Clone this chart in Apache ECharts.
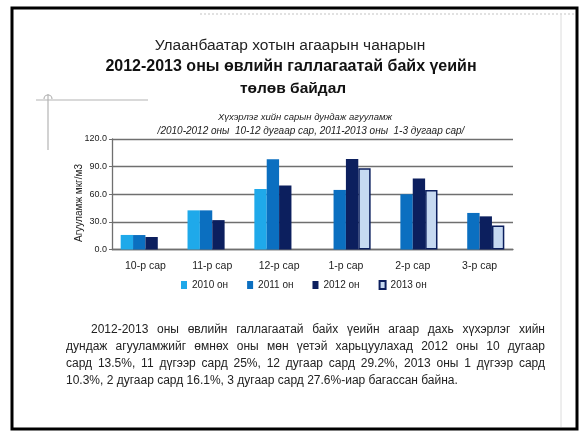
<!DOCTYPE html>
<html><head><meta charset="utf-8">
<script src="https://cdn.jsdelivr.net/npm/echarts@6/dist/echarts.min.js"></script>
<style>html,body{margin:0;padding:0;background:#fff}#c{width:581px;height:432px}</style>
</head><body><div id="c"></div>
<script>
// Monthly mean SO2 concentration, heating season comparison
const months = ['10-р сар', '11-р сар', '12-р сар', '1-р сар', '2-р сар', '3-р сар'];
const seriesNames = ['2010 он', '2011 он', '2012 он', '2013 он'];
const s2010 = [15.8, 42.5, 65.7, null, null, null];
const s2011 = [15.7, 42.5, 98.0, 64.7, 60.0, 39.7];
const s2012 = [13.6, 31.9, 69.4, 98.3, 77.0, 36.0];
const s2013 = [null, null, null, 88.2, 64.6, 26.1];

const titleLines = [
  'Улаанбаатар хотын агаарын чанарын',
  '2012-2013 оны өвлийн галлагаатай байх үеийн',
  'төлөв байдал'
];
const subtitleLines = [
  'Хүхэрлэг хийн сарын дундаж агууламж',
  '/2010-2012 оны  10-12 дугаар сар, 2011-2013 оны  1-3 дугаар сар/'
];
const yAxisTitle = 'Агууламж мкг/м3';
const paragraphLines = [
  '2012-2013 оны өвлийн галлагаатай байх үеийн агаар дахь хүхэрлэг хийн',
  'дундаж агууламжийг өмнөх оны мөн үетэй харьцуулахад 2012 оны 10 дугаар',
  'сард 13.5%, 11 дүгээр сард 25%, 12 дугаар сард 29.2%, 2013 оны 1 дүгээр сард',
  '10.3%, 2 дугаар сард 16.1%, 3 дугаар сард 27.6%-иар багассан байна.'
];

const colors = ['#1fa9ea', '#0b6fc0', '#0c1f5e', '#c6d9f1'];
const narrow = '"Liberation Sans Narrow", "Liberation Sans", Arial, sans-serif';
const sans = '"Liberation Sans", Arial, sans-serif';

// Justified paragraph: each word is placed as its own text element
const measureCtx = document.createElement('canvas').getContext('2d');
function paragraphGraphics() {
  const fontSize = 12;
  const font = fontSize + 'px ' + sans;
  measureCtx.font = font;
  const out = [];
  const lineYs = [330, 347, 364, 381];
  const right = 545;
  paragraphLines.forEach((line, i) => {
    const left = i === 0 ? 91 : 66;
    const words = line.split(' ');
    const widths = words.map(w => measureCtx.measureText(w).width);
    const total = widths.reduce((a, b) => a + b, 0);
    const last = i === paragraphLines.length - 1;
    const gap = last ? measureCtx.measureText(' ').width : (right - left - total) / (words.length - 1);
    let x = left;
    words.forEach((w, k) => {
      out.push({
        type: 'text', x: x, y: lineYs[i],
        style: { text: w, font: font, fill: '#222', textVerticalAlign: 'middle' }
      });
      x += widths[k] + gap;
    });
  });
  return out;
}

const chart = echarts.init(document.getElementById('c'), null, { renderer: 'canvas' });
const data = [s2010, s2011, s2012, s2013];

chart.setOption({
  animation: false,
  backgroundColor: '#fff',
  grid: { left: 112, right: 68, top: 139, bottom: 182.5 },
  legend: {
    data: seriesNames,
    left: 176, top: 275,
    icon: 'rect', itemWidth: 6, itemHeight: 8, itemGap: 19, itemTextGap: 2,
    textStyle: { fontFamily: narrow, fontSize: 10, color: '#222' }
  },
  xAxis: {
    type: 'category', data: months,
    axisLine: { lineStyle: { color: '#6f6f6f', width: 1.3 } },
    axisTick: { show: false },
    axisLabel: { margin: 11, fontFamily: narrow, fontSize: 10.5, color: '#222' }
  },
  yAxis: {
    type: 'value', min: 0, max: 120, interval: 30,
    axisLine: { show: true, lineStyle: { color: '#6f6f6f', width: 1.3 } },
    axisTick: { show: true, length: 3, lineStyle: { color: '#6f6f6f' } },
    axisLabel: { margin: 5, fontFamily: narrow, fontSize: 9, color: '#222',
      formatter: v => v.toFixed(1) },
    splitLine: { lineStyle: { color: '#6f6f6f', width: 1.3 } }
  },
  series: seriesNames.map((name, i) => ({
    name: name, type: 'bar', data: data[i],
    barGap: '0%', barCategoryGap: '26%',
    itemStyle: i === 3
      ? { color: colors[3], borderColor: colors[2], borderWidth: 1.5 }
      : { color: colors[i] }
  })),
  graphic: [
    // page frame
    { type: 'rect', shape: { x: 12, y: 8, width: 565, height: 421 },
      style: { fill: 'none', stroke: '#000', lineWidth: 3 }, z: 10 },
    { type: 'line', shape: { x1: 200, y1: 14, x2: 575, y2: 14 },
      style: { stroke: '#d8d8d8', lineWidth: 1.5, lineDash: [2, 2] } },
    { type: 'line', shape: { x1: 561, y1: 14, x2: 561, y2: 427 },
      style: { stroke: '#dcdcdc', lineWidth: 1 } },
    // corner mark
    { type: 'line', shape: { x1: 36, y1: 100, x2: 148, y2: 100 },
      style: { stroke: '#b4b4b4', lineWidth: 1.2 } },
    { type: 'line', shape: { x1: 48, y1: 94, x2: 48, y2: 150 },
      style: { stroke: '#b4b4b4', lineWidth: 1.2 } },
    { type: 'arc', shape: { cx: 48, cy: 99, r: 4, startAngle: Math.PI, endAngle: 2 * Math.PI },
      style: { stroke: '#b4b4b4', lineWidth: 1.2, fill: 'none' } },
    // titles
    { type: 'text', x: 290, y: 46, style: { text: titleLines[0], font: '15.5px ' + sans,
      fill: '#222', textAlign: 'center', textVerticalAlign: 'middle' } },
    { type: 'text', x: 291, y: 67, style: { text: titleLines[1], font: 'bold 16px ' + sans,
      fill: '#111', textAlign: 'center', textVerticalAlign: 'middle' } },
    { type: 'text', x: 293, y: 89, style: { text: titleLines[2], font: 'bold 15.5px ' + sans,
      fill: '#111', textAlign: 'center', textVerticalAlign: 'middle' } },
    { type: 'text', x: 305, y: 117, style: { text: subtitleLines[0], font: 'italic 9.5px ' + narrow,
      fill: '#222', textAlign: 'center', textVerticalAlign: 'middle' } },
    { type: 'text', x: 311, y: 131, style: { text: subtitleLines[1], font: 'italic 10px ' + narrow,
      fill: '#222', textAlign: 'center', textVerticalAlign: 'middle' } },
    // y axis title
    { type: 'text', x: 79, y: 203, rotation: Math.PI / 2,
      style: { text: yAxisTitle, font: '10px ' + narrow, fill: '#222',
        textAlign: 'center', textVerticalAlign: 'middle' } }
  ].concat(paragraphGraphics())
});
</script>
</body></html>
